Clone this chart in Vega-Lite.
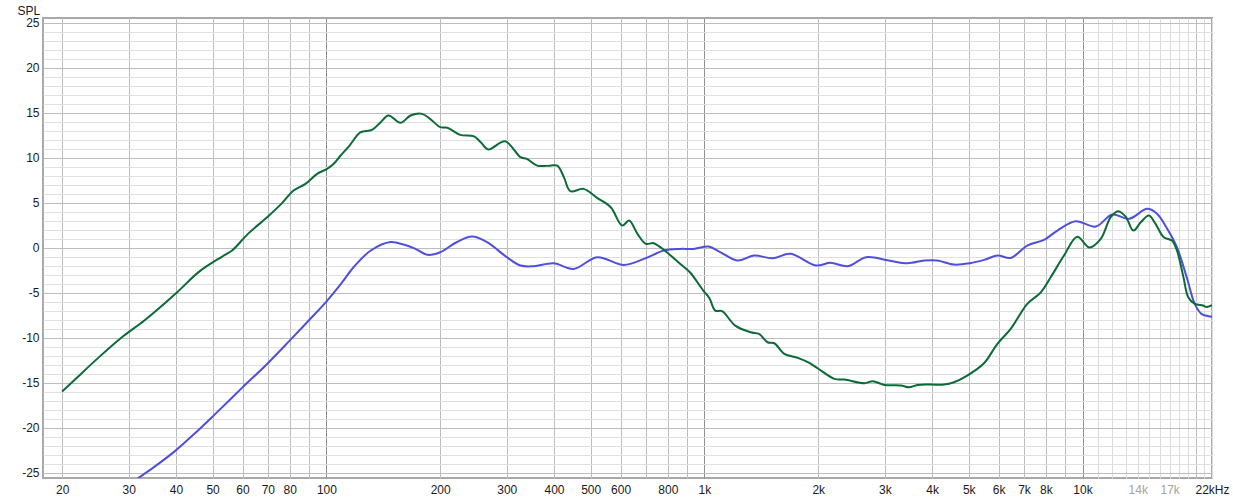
{
  "$schema": "https://vega.github.io/schema/vega-lite/v6.json",
  "width": 1169,
  "height": 460,
  "autosize": {"type": "none"},
  "padding": {"left": 43, "top": 18, "right": 21, "bottom": 24},
  "config": {
    "font": "Liberation Sans",
    "view": {"stroke": "#a9a9a9", "strokeWidth": 2}
  },
  "datasets": {
    "curves": [
      {"f": 30, "db": -26.4, "s": "blue"},
      {"f": 31.6, "db": -25.7, "s": "blue"},
      {"f": 35.5, "db": -24.2, "s": "blue"},
      {"f": 39.9, "db": -22.56, "s": "blue"},
      {"f": 45, "db": -20.6, "s": "blue"},
      {"f": 50.3, "db": -18.67, "s": "blue"},
      {"f": 59.8, "db": -15.59, "s": "blue"},
      {"f": 69.7, "db": -12.93, "s": "blue"},
      {"f": 80.3, "db": -10.26, "s": "blue"},
      {"f": 89.8, "db": -8.11, "s": "blue"},
      {"f": 100, "db": -6.0, "s": "blue"},
      {"f": 109, "db": -4.1, "s": "blue"},
      {"f": 118, "db": -2.19, "s": "blue"},
      {"f": 131, "db": -0.33, "s": "blue"},
      {"f": 148, "db": 0.62, "s": "blue"},
      {"f": 160, "db": 0.33, "s": "blue"},
      {"f": 172, "db": -0.15, "s": "blue"},
      {"f": 185, "db": -0.81, "s": "blue"},
      {"f": 200, "db": -0.52, "s": "blue"},
      {"f": 221, "db": 0.59, "s": "blue"},
      {"f": 243, "db": 1.22, "s": "blue"},
      {"f": 266, "db": 0.59, "s": "blue"},
      {"f": 300, "db": -1.07, "s": "blue"},
      {"f": 326, "db": -2.0, "s": "blue"},
      {"f": 354, "db": -2.07, "s": "blue"},
      {"f": 399, "db": -1.74, "s": "blue"},
      {"f": 451, "db": -2.37, "s": "blue"},
      {"f": 520, "db": -1.07, "s": "blue"},
      {"f": 612, "db": -1.93, "s": "blue"},
      {"f": 692, "db": -1.26, "s": "blue"},
      {"f": 781, "db": -0.33, "s": "blue"},
      {"f": 862, "db": -0.15, "s": "blue"},
      {"f": 935, "db": -0.15, "s": "blue"},
      {"f": 1025, "db": 0.11, "s": "blue"},
      {"f": 1100, "db": -0.5, "s": "blue"},
      {"f": 1222, "db": -1.44, "s": "blue"},
      {"f": 1352, "db": -0.89, "s": "blue"},
      {"f": 1513, "db": -1.19, "s": "blue"},
      {"f": 1690, "db": -0.7, "s": "blue"},
      {"f": 1972, "db": -2.0, "s": "blue"},
      {"f": 2154, "db": -1.7, "s": "blue"},
      {"f": 2394, "db": -2.07, "s": "blue"},
      {"f": 2677, "db": -1.07, "s": "blue"},
      {"f": 3072, "db": -1.44, "s": "blue"},
      {"f": 3445, "db": -1.74, "s": "blue"},
      {"f": 3810, "db": -1.44, "s": "blue"},
      {"f": 4130, "db": -1.44, "s": "blue"},
      {"f": 4570, "db": -1.89, "s": "blue"},
      {"f": 5040, "db": -1.74, "s": "blue"},
      {"f": 5490, "db": -1.37, "s": "blue"},
      {"f": 5954, "db": -0.89, "s": "blue"},
      {"f": 6456, "db": -1.15, "s": "blue"},
      {"f": 7143, "db": 0.22, "s": "blue"},
      {"f": 7910, "db": 0.85, "s": "blue"},
      {"f": 8580, "db": 1.89, "s": "blue"},
      {"f": 9580, "db": 2.93, "s": "blue"},
      {"f": 10840, "db": 2.33, "s": "blue"},
      {"f": 11990, "db": 3.67, "s": "blue"},
      {"f": 13270, "db": 3.19, "s": "blue"},
      {"f": 14830, "db": 4.3, "s": "blue"},
      {"f": 15760, "db": 3.74, "s": "blue"},
      {"f": 16760, "db": 2.07, "s": "blue"},
      {"f": 17770, "db": 0.04, "s": "blue"},
      {"f": 18860, "db": -3.3, "s": "blue"},
      {"f": 19810, "db": -6.26, "s": "blue"},
      {"f": 20630, "db": -7.37, "s": "blue"},
      {"f": 21730, "db": -7.67, "s": "blue"},
      {"f": 22000, "db": -7.7, "s": "blue"},
      {"f": 20, "db": -16.0, "s": "green"},
      {"f": 21.7, "db": -14.6, "s": "green"},
      {"f": 25, "db": -12.2, "s": "green"},
      {"f": 29.1, "db": -9.8, "s": "green"},
      {"f": 33, "db": -8.1, "s": "green"},
      {"f": 40.3, "db": -4.96, "s": "green"},
      {"f": 46, "db": -2.7, "s": "green"},
      {"f": 53, "db": -1.0, "s": "green"},
      {"f": 56.3, "db": -0.33, "s": "green"},
      {"f": 62, "db": 1.52, "s": "green"},
      {"f": 69.7, "db": 3.37, "s": "green"},
      {"f": 76, "db": 4.85, "s": "green"},
      {"f": 81.9, "db": 6.33, "s": "green"},
      {"f": 88, "db": 7.07, "s": "green"},
      {"f": 94.5, "db": 8.19, "s": "green"},
      {"f": 100.4, "db": 8.74, "s": "green"},
      {"f": 104.6, "db": 9.3, "s": "green"},
      {"f": 108.9, "db": 10.2, "s": "green"},
      {"f": 115, "db": 11.3, "s": "green"},
      {"f": 123, "db": 12.8, "s": "green"},
      {"f": 132, "db": 13.07, "s": "green"},
      {"f": 139, "db": 13.9, "s": "green"},
      {"f": 146, "db": 14.67, "s": "green"},
      {"f": 157, "db": 13.85, "s": "green"},
      {"f": 167, "db": 14.67, "s": "green"},
      {"f": 179, "db": 14.85, "s": "green"},
      {"f": 188, "db": 14.3, "s": "green"},
      {"f": 200, "db": 13.37, "s": "green"},
      {"f": 209, "db": 13.3, "s": "green"},
      {"f": 226, "db": 12.52, "s": "green"},
      {"f": 245, "db": 12.37, "s": "green"},
      {"f": 256, "db": 11.7, "s": "green"},
      {"f": 268, "db": 10.9, "s": "green"},
      {"f": 297, "db": 11.8, "s": "green"},
      {"f": 326, "db": 10.04, "s": "green"},
      {"f": 339, "db": 9.85, "s": "green"},
      {"f": 361, "db": 9.1, "s": "green"},
      {"f": 391, "db": 9.1, "s": "green"},
      {"f": 408, "db": 9.1, "s": "green"},
      {"f": 425, "db": 7.8, "s": "green"},
      {"f": 442, "db": 6.26, "s": "green"},
      {"f": 479, "db": 6.52, "s": "green"},
      {"f": 520, "db": 5.52, "s": "green"},
      {"f": 565, "db": 4.48, "s": "green"},
      {"f": 606, "db": 2.44, "s": "green"},
      {"f": 632, "db": 3.0, "s": "green"},
      {"f": 665, "db": 1.52, "s": "green"},
      {"f": 700, "db": 0.41, "s": "green"},
      {"f": 734, "db": 0.48, "s": "green"},
      {"f": 795, "db": -0.52, "s": "green"},
      {"f": 862, "db": -1.81, "s": "green"},
      {"f": 915, "db": -2.74, "s": "green"},
      {"f": 993, "db": -4.78, "s": "green"},
      {"f": 1030, "db": -5.6, "s": "green"},
      {"f": 1068, "db": -7.0, "s": "green"},
      {"f": 1113, "db": -7.07, "s": "green"},
      {"f": 1206, "db": -8.67, "s": "green"},
      {"f": 1324, "db": -9.41, "s": "green"},
      {"f": 1394, "db": -9.6, "s": "green"},
      {"f": 1468, "db": -10.52, "s": "green"},
      {"f": 1530, "db": -10.63, "s": "green"},
      {"f": 1626, "db": -11.81, "s": "green"},
      {"f": 1765, "db": -12.26, "s": "green"},
      {"f": 1877, "db": -12.74, "s": "green"},
      {"f": 1992, "db": -13.41, "s": "green"},
      {"f": 2206, "db": -14.59, "s": "green"},
      {"f": 2346, "db": -14.67, "s": "green"},
      {"f": 2650, "db": -15.07, "s": "green"},
      {"f": 2786, "db": -14.85, "s": "green"},
      {"f": 2992, "db": -15.26, "s": "green"},
      {"f": 3310, "db": -15.33, "s": "green"},
      {"f": 3479, "db": -15.52, "s": "green"},
      {"f": 3660, "db": -15.26, "s": "green"},
      {"f": 3970, "db": -15.22, "s": "green"},
      {"f": 4300, "db": -15.22, "s": "green"},
      {"f": 4570, "db": -14.96, "s": "green"},
      {"f": 4954, "db": -14.22, "s": "green"},
      {"f": 5486, "db": -12.85, "s": "green"},
      {"f": 5954, "db": -10.7, "s": "green"},
      {"f": 6456, "db": -9.04, "s": "green"},
      {"f": 7143, "db": -6.26, "s": "green"},
      {"f": 7746, "db": -5.0, "s": "green"},
      {"f": 8238, "db": -3.3, "s": "green"},
      {"f": 8931, "db": -0.89, "s": "green"},
      {"f": 9684, "db": 1.2, "s": "green"},
      {"f": 10430, "db": 0.0, "s": "green"},
      {"f": 11170, "db": 0.96, "s": "green"},
      {"f": 11870, "db": 3.37, "s": "green"},
      {"f": 12410, "db": 4.04, "s": "green"},
      {"f": 13000, "db": 3.44, "s": "green"},
      {"f": 13630, "db": 1.89, "s": "green"},
      {"f": 14260, "db": 2.81, "s": "green"},
      {"f": 14980, "db": 3.56, "s": "green"},
      {"f": 15600, "db": 2.63, "s": "green"},
      {"f": 16390, "db": 1.15, "s": "green"},
      {"f": 17240, "db": 0.78, "s": "green"},
      {"f": 17770, "db": -0.33, "s": "green"},
      {"f": 18490, "db": -3.3, "s": "green"},
      {"f": 19040, "db": -5.52, "s": "green"},
      {"f": 19810, "db": -6.26, "s": "green"},
      {"f": 20830, "db": -6.44, "s": "green"},
      {"f": 21300, "db": -6.6, "s": "green"},
      {"f": 22000, "db": -6.4, "s": "green"}
    ]
  },
  "data": {"name": "curves"},
  "mark": {"type": "line", "interpolate": "catmull-rom", "clip": true, "strokeWidth": 2},
  "encoding": {
    "x": {
      "field": "f",
      "type": "quantitative",
      "scale": {"type": "log", "domain": [17.8, 22000], "nice": false},
      "axis": {
        "title": null,
        "values": [20, 30, 40, 50, 60, 70, 80, 90, 100, 200, 300, 400, 500, 600, 700, 800, 900, 1000, 2000, 3000, 4000, 5000, 6000, 7000, 8000, 9000, 10000, 11000, 12000, 13000, 14000, 15000, 16000, 17000, 18000, 19000, 20000, 21000, 22000],
        "grid": true,
        "gridWidth": 1,
        "gridColor": {"condition": [{"test": "datum.value == 100 || datum.value == 1000 || datum.value == 10000", "value": "#8f8f8f"}, {"test": "datum.value > 10000 && datum.value != 20000", "value": "#dddddd"}], "value": "#bdbdbd"},
        "domain": false,
        "ticks": false,
        "labelPadding": 6,
        "labelFontSize": 12,
        "labelOverlap": false,
        "labelFlush": false,
        "labelBound": false,
        "labelColor": {"condition": {"test": "datum.value == 14000 || datum.value == 17000", "value": "#a3a3a3"}, "value": "#1a1a1a"},
        "labelExpr": "indexof([20,30,40,50,60,70,80,100,200,300,400,500,600,800,1000,2000,3000,4000,5000,6000,7000,8000,10000,14000,17000], datum.value) >= 0 ? (datum.value >= 1000 ? (datum.value / 1000) + 'k' : '' + datum.value) : (datum.value == 22000 ? '22kHz' : '')"
      }
    },
    "y": {
      "field": "db",
      "type": "quantitative",
      "scale": {"domain": [-25.6, 25.5], "nice": false, "zero": false},
      "axis": {
        "title": "SPL",
        "titleAngle": 0,
        "titleAlign": "left",
        "titleBaseline": "middle",
        "titleX": -26,
        "titleY": -8,
        "titleFontSize": 12,
        "titleFontWeight": "normal",
        "titleColor": "#1a1a1a",
        "values": [-25, -24, -23, -22, -21, -20, -19, -18, -17, -16, -15, -14, -13, -12, -11, -10, -9, -8, -7, -6, -5, -4, -3, -2, -1, 0, 1, 2, 3, 4, 5, 6, 7, 8, 9, 10, 11, 12, 13, 14, 15, 16, 17, 18, 19, 20, 21, 22, 23, 24, 25],
        "grid": true,
        "gridWidth": 1,
        "gridColor": {"condition": {"test": "datum.value % 5 == 0", "value": "#bdbdbd"}, "value": "#e0e0e0"},
        "domain": false,
        "ticks": false,
        "labelPadding": 4,
        "labelFontSize": 12,
        "labelColor": "#1a1a1a",
        "labelOverlap": false,
        "labelBound": false,
        "labelExpr": "datum.value % 5 == 0 ? '' + datum.value : ''"
      }
    },
    "color": {
      "field": "s",
      "type": "nominal",
      "scale": {"domain": ["blue", "green"], "range": ["#4f4fdd", "#0b6b37"]},
      "legend": null
    },
    "order": {"field": "f", "type": "quantitative"}
  }
}
